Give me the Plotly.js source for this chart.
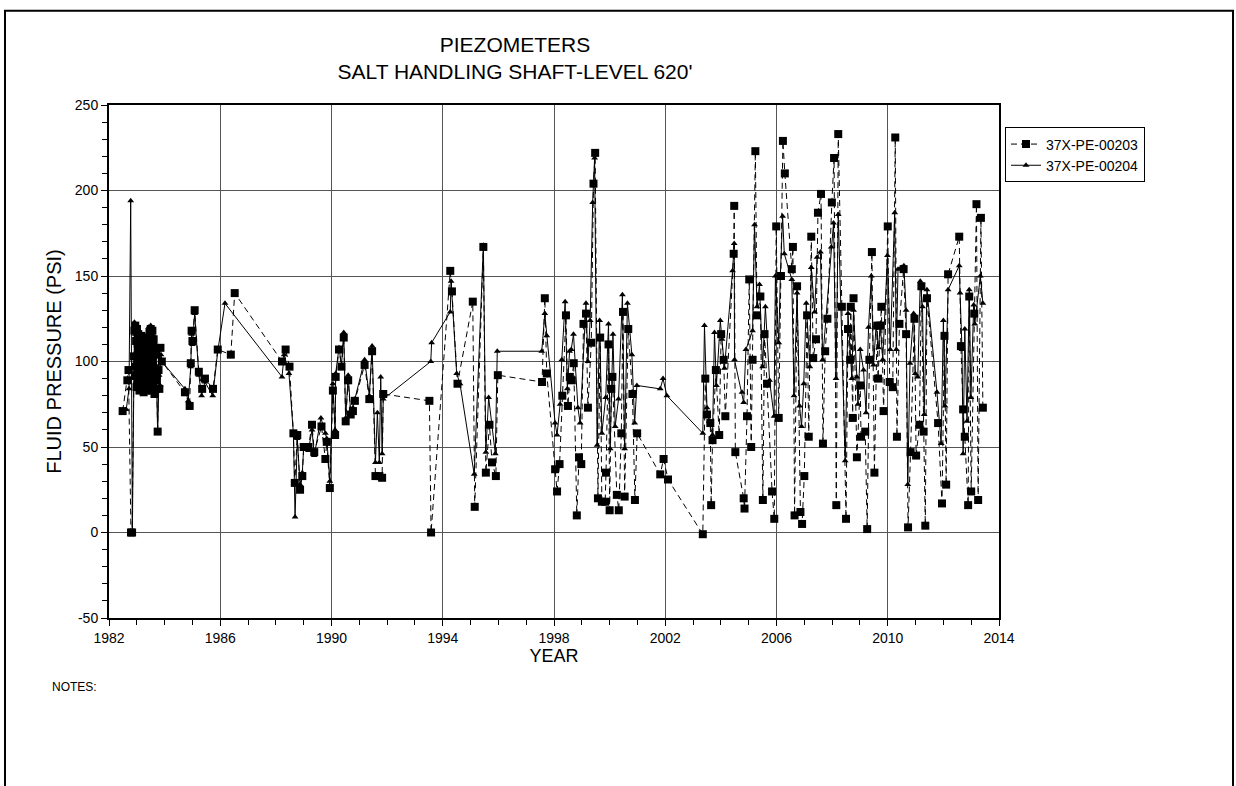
<!DOCTYPE html>
<html>
<head>
<meta charset="utf-8">
<script src="https://cdn.plot.ly/plotly-3.0.1.min.js"></script>
<style>
html,body{margin:0;padding:0;background:#fff;}
#chart{width:1236px;height:786px;}
</style>
</head>
<body>
<div id="chart"></div>
<script>
// 37X-PE-00203 (squares, dashed)
const yearsA = [1982.49,1982.66,1982.70,1982.79,1982.83,
1982.900,1982.915,1982.930,1982.945,1982.960,1982.975,1982.990,1983.005,1983.020,1983.035,1983.050,1983.065,1983.080,1983.095,1983.110,1983.125,1983.140,1983.155,1983.170,1983.185,1983.200,1983.215,1983.230,1983.245,1983.260,1983.275,1983.290,1983.305,1983.320,1983.335,1983.350,1983.365,1983.380,1983.395,1983.410,1983.425,1983.440,1983.455,1983.470,1983.485,1983.500,1983.515,1983.530,1983.545,1983.560,1983.575,1983.590,1983.605,1983.620,1983.635,1983.650,1983.665,1983.680,1983.695,1983.710,
1983.75,1983.78,1983.81,1983.85,1983.90,1984.73,1984.90,1984.94,1984.97,1985.00,1985.08,1985.23,1985.35,1985.45,1985.74,1985.91,1986.38,1986.52,
1988.22,1988.35,1988.49,1988.63,1988.68,1988.77,1988.87,1988.95,1989.00,1989.17,1989.30,1989.38,1989.64,1989.78,1989.83,1989.94,
1990.05,1990.13,1990.15,1990.27,1990.36,1990.44,1990.51,1990.60,1990.69,1990.77,1990.84,1991.19,1991.36,1991.46,1991.58,1991.72,1991.82,1991.86,
1993.52,1993.58,1994.27,1994.33,1994.53,1995.08,1995.15,1995.46,1995.55,1995.68,1995.77,1995.91,1995.98,1997.57,1997.67,1997.74,
1998.04,1998.11,1998.20,1998.30,1998.43,1998.50,1998.57,1998.64,1998.71,1998.82,1998.90,1998.98,1999.06,1999.15,1999.22,1999.34,1999.42,1999.48,1999.58,1999.66,1999.72,1999.84,1999.87,1999.96,
2000.00,2000.06,2000.10,2000.26,2000.33,2000.42,2000.48,2000.54,2000.67,2000.82,2000.91,2000.99,2001.82,2001.94,2002.10,
2003.35,2003.44,2003.50,2003.62,2003.65,2003.70,2003.82,2003.94,2004.01,2004.10,2004.16,2004.46,2004.48,2004.52,2004.82,2004.85,2004.94,
2005.02,2005.09,2005.14,2005.24,2005.30,2005.42,2005.51,2005.57,2005.66,2005.84,2005.92,2005.99,2006.08,2006.16,2006.23,2006.30,2006.55,2006.59,2006.65,2006.74,2006.86,2006.92,
2007.00,2007.10,2007.16,2007.25,2007.32,2007.42,2007.49,2007.60,2007.67,2007.75,2007.83,2007.99,2008.07,2008.15,2008.22,2008.35,2008.50,2008.57,2008.65,2008.67,2008.74,2008.77,2008.89,
2009.01,2009.04,2009.19,2009.26,2009.34,2009.43,2009.52,2009.62,2009.65,2009.73,2009.77,2009.85,2010.00,2010.07,2010.18,2010.27,2010.33,2010.42,2010.57,2010.66,2010.73,2010.82,2010.96,
2011.02,2011.14,2011.21,2011.29,2011.35,2011.41,2011.81,2011.95,2012.04,2012.10,2012.17,2012.57,2012.63,2012.71,2012.77,2012.89,2012.93,2013.00,2013.11,2013.19,2013.25,2013.35,2013.42];
const valuesA = [71,89,95,0,0,
103,118,92,121,97,112,85,119,101,88,116,94,108,83,113,99,87,115,104,84,111,93,107,82,110,96,86,109,100,83,112,91,105,84,114,98,88,117,102,85,119,95,110,83,118,100,87,113,92,81,108,96,84,104,89,
59,95,84,108,100,82,74,99,118,112,130,94,84,90,84,107,104,140,
100,107,97,58,29,57,25,33,50,50,63,47,62,43,53,26,
83,57,91,107,97,114,65,89,69,71,77,98,78,106,33,33,32,81,
77,0,153,141,87,135,15,167,35,63,41,33,92,88,137,93,
37,24,40,80,127,74,91,89,99,10,44,40,122,128,73,111,204,222,20,114,18,18,35,110,
13,84,91,22,13,58,129,21,119,81,19,58,34,43,31,
-1,90,69,64,16,54,95,57,116,101,68,163,191,47,20,14,68,
148,50,101,223,127,138,19,116,87,24,8,179,67,150,229,210,154,167,10,144,12,5,
33,127,56,173,102,113,187,198,52,106,125,193,219,16,233,132,8,119,101,132,67,137,44,
86,56,59,2,101,164,35,121,90,121,132,71,179,88,85,231,56,122,154,116,3,47,125,
45,63,144,59,4,137,64,17,115,28,151,173,109,72,56,16,138,24,128,192,19,184,73];

// 37X-PE-00204 (triangles, solid)
const yearsB = [1982.62,1982.72,1982.78,1982.84,
1982.900,1982.915,1982.930,1982.945,1982.960,1982.975,1982.990,1983.005,1983.020,1983.035,1983.050,1983.065,1983.080,1983.095,1983.110,1983.125,1983.140,1983.155,1983.170,1983.185,1983.200,1983.215,1983.230,1983.245,1983.260,1983.275,1983.290,1983.305,1983.320,1983.335,1983.350,1983.365,1983.380,1983.395,1983.410,1983.425,1983.440,1983.455,1983.470,1983.485,1983.500,1983.515,1983.530,1983.545,1983.560,1983.575,1983.590,1983.605,1983.620,1983.635,1983.650,1983.665,1983.680,1983.695,1983.710,
1983.75,1983.80,1983.84,1983.87,1983.90,1984.73,1984.85,1984.94,1984.97,1985.00,1985.08,1985.23,1985.33,1985.45,1985.73,1985.91,1986.17,
1988.22,1988.30,1988.47,1988.63,1988.69,1988.77,1988.87,1988.95,1989.00,1989.17,1989.30,1989.38,1989.62,1989.78,1989.83,1989.94,
1990.05,1990.13,1990.15,1990.27,1990.36,1990.44,1990.51,1990.60,1990.69,1990.77,1990.84,1991.19,1991.36,1991.46,1991.58,1991.65,1991.72,1991.77,1991.82,1991.86,
1993.57,1993.60,1994.27,1994.30,1994.50,1994.62,1995.13,1995.46,1995.55,1995.65,1995.89,1995.96,1997.56,1997.67,1997.74,
1998.04,1998.11,1998.22,1998.28,1998.40,1998.48,1998.56,1998.62,1998.70,1998.86,1998.94,1999.15,1999.22,1999.30,1999.39,1999.46,1999.55,1999.64,1999.72,1999.86,1999.96,
2000.02,2000.12,2000.20,2000.32,2000.46,2000.54,2000.64,2000.80,2000.90,2000.98,2001.82,2001.92,2002.06,
2003.35,2003.41,2003.50,2003.58,2003.70,2003.77,2003.84,2003.98,2004.04,2004.13,2004.42,2004.48,2004.49,2004.76,2004.82,2004.90,
2005.14,2005.21,2005.30,2005.39,2005.50,2005.60,2005.75,2005.91,2005.96,2006.08,2006.14,2006.22,2006.28,2006.55,2006.63,2006.74,2006.83,2006.90,2006.98,
2007.07,2007.20,2007.25,2007.37,2007.46,2007.58,2007.66,2007.97,2008.05,2008.14,2008.22,2008.47,2008.57,2008.71,2008.77,2008.89,2008.93,
2009.01,2009.13,2009.22,2009.31,2009.41,2009.49,2009.58,2009.67,2009.73,2009.82,2009.99,2010.09,2010.25,2010.31,2010.37,2010.49,2010.58,2010.66,2010.72,2010.80,2010.93,2010.99,
2011.08,2011.17,2011.25,2011.31,2011.41,2011.77,2011.92,2012.00,2012.06,2012.17,2012.57,2012.60,2012.67,2012.71,2012.77,2012.85,2012.93,2012.99,2013.09,2013.13,2013.33,2013.42];
const valuesB = [72,84,194,0,
98,123,90,116,104,120,87,112,95,119,86,108,114,92,117,85,106,111,89,115,98,84,110,103,88,113,94,107,86,112,99,90,116,85,109,120,93,118,87,105,121,96,114,84,111,100,89,115,83,107,97,86,110,92,104,
58,92,86,104,100,84,77,97,116,110,128,92,80,88,80,106,134,
91,104,93,58,9,55,28,35,50,48,60,45,67,58,55,30,
87,60,93,108,98,117,67,92,70,73,78,101,80,109,41,70,41,91,46,78,
100,111,129,147,93,87,34,168,47,79,46,106,106,128,115,
64,57,75,101,135,84,106,107,116,73,64,134,100,124,193,219,51,124,58,79,122,
49,116,62,78,139,49,134,104,64,86,84,90,80,
58,121,73,65,57,117,86,124,113,96,153,169,101,82,76,107,
118,180,132,145,97,132,89,68,150,111,151,185,163,148,80,140,74,62,87,
134,97,155,129,161,164,101,167,181,90,186,42,128,90,130,91,75,
107,95,70,120,150,98,121,108,122,101,162,107,187,107,154,155,156,130,28,99,128,93,
91,147,132,69,142,82,52,124,74,142,156,140,107,46,119,65,142,79,133,122,150,134];

const seriesNames = ['37X-PE-00203','37X-PE-00204'];
const xTickVals = [1982,1986,1990,1994,1998,2002,2006,2010,2014];
const yTickVals = [-50,0,50,100,150,200,250];

const FONT = 'Liberation Sans, Arial, Helvetica, sans-serif';

const traceB = {
  x: yearsB, y: valuesB, name: seriesNames[1], type: 'scatter', mode: 'lines+markers',
  line: {color: '#000', width: 1},
  marker: {symbol: 'triangle-up', size: 6, color: '#000'},
  legendrank: 2
};
const traceA = {
  x: yearsA, y: valuesA, name: seriesNames[0], type: 'scatter', mode: 'lines+markers',
  line: {color: '#000', width: 1, dash: '6px,4px'},
  marker: {symbol: 'square', size: 8, color: '#000'},
  legendrank: 1
};

const plotL = 109, plotR = 999, plotT = 104.5, plotB = 618.3;
const W = 1236, H = 786;
const pw = plotR - plotL, ph = plotB - plotT;
const px = v => (v - plotL) / pw;
const py = v => (plotB - v) / ph;

const layout = {
  width: W, height: H,
  margin: {l: plotL, r: W - plotR, t: plotT, b: H - plotB, pad: 0},
  paper_bgcolor: '#fff', plot_bgcolor: '#fff',
  font: {family: FONT, color: '#000', size: 13},
  showlegend: true,
  title: {
    text: "PIEZOMETERS<br>SALT HANDLING SHAFT-LEVEL 620'",
    font: {family: FONT, size: 21, color: '#000'},
    x: 515 / W, xanchor: 'center', xref: 'container',
    y: 1 - 52 / H, yanchor: 'top', yref: 'container'
  },
  xaxis: {
    range: [1982, 2014], tickvals: xTickVals, ticktext: xTickVals.map(String),
    showgrid: true, gridcolor: '#555', gridwidth: 1, zeroline: false,
    showline: true, linecolor: '#000', linewidth: 2, mirror: true,
    ticks: 'outside', ticklen: 6, tickcolor: '#000', tickwidth: 1,
    minor: {dtick: 1, ticks: 'outside', ticklen: 5, tickcolor: '#000', showgrid: false},
    tickfont: {family: FONT, size: 14, color: '#000'},
    title: {text: 'YEAR', font: {family: FONT, size: 18, color: '#000'}, standoff: 2}
  },
  yaxis: {
    range: [-50, 250], tickvals: yTickVals, ticktext: yTickVals.map(String),
    showgrid: true, gridcolor: '#555', gridwidth: 1, zeroline: false,
    showline: true, linecolor: '#000', linewidth: 2, mirror: true,
    ticks: 'outside', ticklen: 6, tickcolor: '#000', tickwidth: 1,
    minor: {dtick: 10, ticks: 'outside', ticklen: 5, tickcolor: '#000', showgrid: false},
    tickfont: {family: FONT, size: 14, color: '#000'},
    title: {text: 'FLUID PRESSURE (PSI)', font: {family: FONT, size: 20, color: '#000'}, standoff: 8}
  },
  legend: {
    x: px(1005), y: py(127), xanchor: 'left', yanchor: 'top',
    bordercolor: '#000', borderwidth: 1, bgcolor: '#fff',
    font: {family: FONT, size: 14, color: '#000'},
    tracegroupgap: 0, itemwidth: 30
  },
  shapes: [{
    type: 'rect', xref: 'paper', yref: 'paper',
    x0: px(5), x1: px(1233), y0: py(800), y1: py(10),
    line: {color: '#000', width: 2}, fillcolor: 'rgba(0,0,0,0)', layer: 'above'
  }],
  annotations: [{
    text: 'NOTES:', xref: 'paper', yref: 'paper', x: px(50), y: py(687),
    xanchor: 'left', yanchor: 'middle', showarrow: false,
    font: {family: FONT, size: 12, color: '#000'}
  }]
};

Plotly.newPlot('chart', [traceB, traceA], layout, {displayModeBar: false, staticPlot: true});
</script>
</body>
</html>
